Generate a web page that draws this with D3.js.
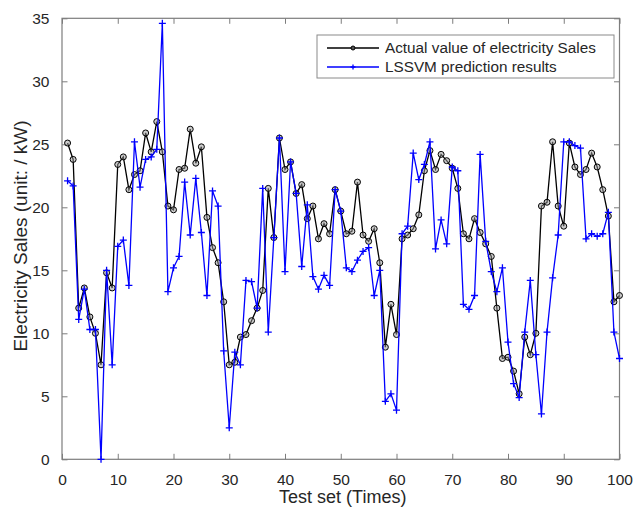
<!DOCTYPE html>
<html>
<head>
  <meta charset="utf-8">
  <title>Electricity Sales: actual vs LSSVM prediction</title>
  <style>
    body { margin: 0; background: #fff; }
    svg { font-family: "Liberation Sans", Arial, Helvetica, sans-serif; }
    .tick text { fill: #262626; }
  </style>
</head>
<body>
  <div id="chart"></div>
  <script src="https://d3js.org/d3.v7.min.js"></script>
  <script>
    // test set index 1..100
    const times = d3.range(1, 101);

    const actual = [
      25.1, 23.8, 12.0, 13.6, 11.3, 10.0, 7.5, 14.8, 13.6, 23.4,
      24.0, 21.4, 22.6, 22.9, 25.9, 24.4, 26.8, 24.4, 20.1, 19.8,
      23.0, 23.1, 26.2, 23.5, 24.8, 19.2, 16.8, 15.6, 12.5, 7.5,
      7.7, 9.7, 9.9, 11.0, 12.0, 13.4, 21.5, 17.6, 25.5, 23.0,
      23.6, 21.1, 21.8, 19.1, 20.1, 17.5, 18.7, 17.9, 21.4, 19.7,
      17.9, 18.1, 22.0, 17.8, 17.3, 18.3, 15.6, 8.9, 12.3, 9.9,
      17.5, 17.8, 18.3, 19.4, 22.9, 24.5, 23.0, 24.2, 23.7, 23.1,
      21.5, 17.9, 17.5, 19.1, 18.0, 17.1, 16.1, 12.0, 8.0, 8.1,
      7.0, 5.2, 9.7, 8.3, 10.0, 20.1, 20.4, 25.2, 20.1, 18.5,
      25.1, 23.2, 22.6, 23.0, 24.3, 23.2, 21.4, 19.3, 12.5, 13.0
    ];

    const predicted = [
      22.1, 21.7, 11.1, 13.5, 10.3, 10.3, 0.0, 15.0, 7.5, 16.9,
      17.4, 13.8, 25.2, 21.6, 23.8, 24.0, 24.6, 34.6, 13.3, 15.2,
      16.1, 22.0, 17.8, 22.3, 18.0, 13.0, 21.3, 20.1, 8.6, 2.5,
      8.5, 7.5, 14.2, 14.1, 12.0, 21.5, 10.1, 17.6, 25.5, 14.9,
      23.6, 21.1, 15.3, 20.2, 14.5, 13.5, 14.6, 13.8, 21.4, 19.7,
      15.2, 14.9, 15.8, 16.5, 16.8, 13.0, 15.0, 4.6, 5.2, 3.9,
      17.9, 18.5, 24.3, 22.2, 23.4, 25.2, 16.7, 19.0, 17.1, 23.2,
      22.9, 12.3, 11.9, 13.0, 24.2, 17.3, 14.9, 13.3, 15.2, 9.3,
      6.0, 4.9, 10.1, 14.2, 8.3, 3.6, 10.1, 14.4, 17.8, 25.2,
      25.2, 24.9, 24.7, 17.5, 17.9, 17.7, 17.9, 19.6, 10.1, 8.0
    ];

    const xTicks = [0, 10, 20, 30, 40, 50, 60, 70, 80, 90, 100];
    const yTicks = [0, 5, 10, 15, 20, 25, 30, 35];
    const seriesNames = ["Actual value of electricity Sales", "LSSVM prediction results"];

    const width = 634, height = 510;
    const margin = {top: 18.3, right: 14.5, bottom: 50.7, left: 62};

    const svg = d3.select("#chart").append("svg")
      .attr("width", width)
      .attr("height", height);

    const x = d3.scaleLinear().domain([0, 100]).range([margin.left, width - margin.right]);
    const y = d3.scaleLinear().domain([0, 35]).range([height - margin.bottom, margin.top]);

    const axisColor = "#7d7d7d";
    const tickLen = 5.5;

    // axes, ticks pointing inward like matlab
    const gx = svg.append("g")
      .attr("transform", `translate(0,${y(0)})`)
      .call(d3.axisBottom(x).tickValues(xTicks).tickSize(-tickLen).tickPadding(tickLen + 9).tickSizeOuter(0));
    const gxTop = svg.append("g")
      .attr("transform", `translate(0,${y(35)})`)
      .call(d3.axisTop(x).tickValues(xTicks).tickSize(-tickLen).tickFormat("").tickSizeOuter(0));
    const gy = svg.append("g")
      .attr("transform", `translate(${x(0)},0)`)
      .call(d3.axisLeft(y).tickValues(yTicks).tickSize(-tickLen).tickPadding(tickLen + 7).tickSizeOuter(0));
    const gyRight = svg.append("g")
      .attr("transform", `translate(${x(100)},0)`)
      .call(d3.axisRight(y).tickValues(yTicks).tickSize(-tickLen).tickFormat("").tickSizeOuter(0));

    [gx, gxTop, gy, gyRight].forEach(g => {
      g.select(".domain").remove();
      g.selectAll(".tick line").attr("stroke", axisColor);
      g.selectAll(".tick text").style("font-size", "15.5px").attr("font-family", null);
    });

    // box
    svg.append("rect")
      .attr("x", x(0)).attr("y", y(35))
      .attr("width", x(100) - x(0)).attr("height", y(0) - y(35))
      .attr("fill", "none")
      .attr("stroke", axisColor)
      .attr("stroke-width", 1.2);

    // labels
    svg.append("text")
      .attr("x", (x(0) + x(100)) / 2 + 2)
      .attr("y", 503)
      .attr("text-anchor", "middle")
      .attr("fill", "#262626")
      .style("font-size", "18px")
      .text("Test set (Times)");

    svg.append("text")
      .attr("transform", `translate(27,236) rotate(-90)`)
      .attr("text-anchor", "middle")
      .attr("fill", "#262626")
      .style("font-size", "19px")
      .text("Electricity Sales (unit: / kW)");

    const line = d3.line()
      .x((d, i) => x(times[i]))
      .y(d => y(d));

    // actual values: black with circles
    svg.append("path")
      .datum(actual)
      .attr("d", line)
      .attr("fill", "none")
      .attr("stroke", "#000")
      .attr("stroke-width", 1.3);

    svg.append("g").selectAll("circle")
      .data(actual)
      .join("circle")
      .attr("cx", (d, i) => x(times[i]))
      .attr("cy", d => y(d))
      .attr("r", 3)
      .attr("fill", "#9a9a9a")
      .attr("fill-opacity", 0.5)
      .attr("stroke", "#000")
      .attr("stroke-width", 1);

    // LSSVM prediction: blue with plus markers
    svg.append("path")
      .datum(predicted)
      .attr("d", line)
      .attr("fill", "none")
      .attr("stroke", "#0000ff")
      .attr("stroke-width", 1.3);

    const plus = d3.symbol().type(d3.symbolCross).size(1);
    const arm = 3.5;
    svg.append("g").selectAll("path")
      .data(predicted)
      .join("path")
      .attr("d", (d, i) => {
        const cx = x(times[i]), cy = y(d);
        return `M${cx - arm},${cy}H${cx + arm}M${cx},${cy - arm}V${cy + arm}`;
      })
      .attr("stroke", "#0000ff")
      .attr("stroke-width", 1.3)
      .attr("fill", "none");

    // legend
    const lg = svg.append("g");
    lg.append("rect")
      .attr("x", 317).attr("y", 35)
      .attr("width", 297).attr("height", 43)
      .attr("fill", "#fff")
      .attr("stroke", "#8a8a8a")
      .attr("stroke-width", 1);

    seriesNames.forEach((name, i) => {
      const cy = 48 + i * 19;
      const color = i === 0 ? "#000" : "#0000ff";
      lg.append("line")
        .attr("x1", 327).attr("x2", 379)
        .attr("y1", cy).attr("y2", cy)
        .attr("stroke", color)
        .attr("stroke-width", 1.3);
      if (i === 0) {
        lg.append("circle")
          .attr("cx", 353).attr("cy", cy).attr("r", 2)
          .attr("fill", "#555").attr("stroke", "#000");
      } else {
        lg.append("path")
          .attr("d", `M${353 - 2.5},${cy}H${353 + 2.5}M353,${cy - 2.5}V${cy + 2.5}`)
          .attr("stroke", color).attr("stroke-width", 1.3);
      }
      lg.append("text")
        .attr("x", 385).attr("y", cy + 5.3)
        .attr("fill", "#262626")
        .style("font-size", "15.3px")
        .text(name);
    });
  </script>
</body>
</html>
